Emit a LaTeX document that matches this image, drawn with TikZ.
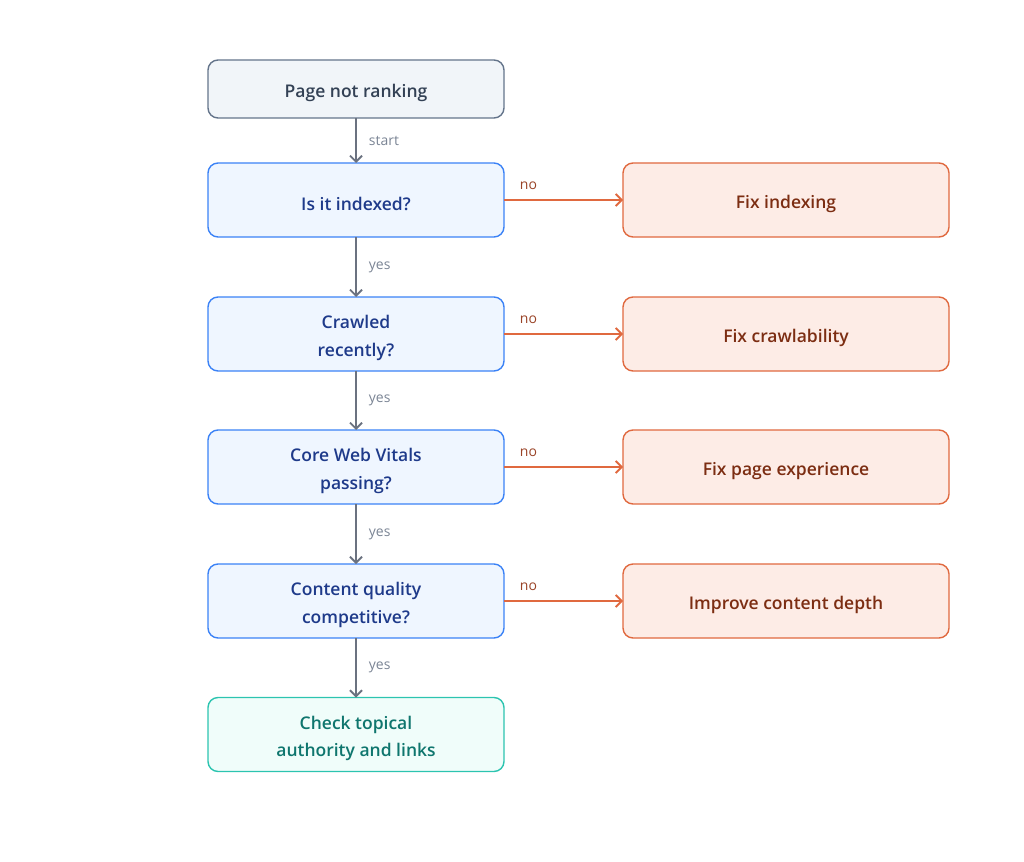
\documentclass[tikz,border=0pt]{standalone}
\usepackage{fontspec}
\IfFontExistsTF{Open Sans Semibold}
  {\setmainfont{Open Sans}[BoldFont={Open Sans Semibold}]}
  {\IfFontExistsTF{OpenSans-Semibold.ttf}
    {\setmainfont{Open Sans}[BoldFont={OpenSans-Semibold.ttf}]}
    {\setmainfont{Open Sans}}}
\usetikzlibrary{positioning,arrows.meta}
\definecolor{grisfond}{HTML}{F1F5F9}
\definecolor{grisbord}{HTML}{64748B}
\definecolor{gristexte}{HTML}{334155}
\definecolor{bleufond}{HTML}{EFF6FF}
\definecolor{bleubord}{HTML}{3B82F6}
\definecolor{bleutexte}{HTML}{1E3A8A}
\definecolor{orfond}{HTML}{FDECE6}
\definecolor{orbord}{HTML}{E0693F}
\definecolor{ortexte}{HTML}{7C2D12}
\definecolor{vertfond}{HTML}{F0FDFA}
\definecolor{vertbord}{HTML}{2CC4B0}
\definecolor{verttexte}{HTML}{0F766E}
\definecolor{fleche}{HTML}{6B7280}
\definecolor{etiq}{HTML}{7A8494}
\definecolor{etiqnon}{HTML}{9A4428}
\newcommand{\haut}{\rule{0pt}{21pt}}
\tikzset{
  boite/.style={rounded corners=10pt, line width=1.4pt, minimum width=296pt,
    minimum height=74pt, align=center, font=\fontsize{17.5}{27.5}\selectfont\bfseries,
    inner sep=0pt, outer sep=0pt},
  depart/.style={boite, fill=grisfond, draw=grisbord, text=gristexte, minimum height=58pt},
  question/.style={boite, fill=bleufond, draw=bleubord, text=bleutexte},
  remede/.style={boite, fill=orfond, draw=orbord, text=ortexte, minimum width=326pt},
  fin/.style={boite, fill=vertfond, draw=vertbord, text=verttexte},
  oui/.style={-{Straight Barb[length=6pt,width=12pt]}, line width=1.8pt, draw=fleche},
  non/.style={-{Straight Barb[length=6pt,width=12pt]}, line width=1.8pt, draw=orbord},
  lab/.style={font=\fontsize{14}{16}\selectfont, text=etiq, inner sep=0pt}
}
\begin{document}
\begin{tikzpicture}[x=1pt, y=1pt]
  \useasboundingbox (0,0) rectangle (1024,-861);
  % Colonne des questions
  \node [depart] (page) at (356,-89) {\haut Page not ranking};
  \node [question] (index) at (356,-200) {\haut Is it indexed?};
  \node [question] (crawl) at (356,-334) {\haut Crawled\\recently?};
  \node [question] (cwv) at (356,-467) {\haut Core Web Vitals\\passing?};
  \node [question] (contenu) at (356,-601) {\haut Content quality\\competitive?};
  \node [fin] (autorite) at (356,-734.5) {\haut Check topical\\authority and links};
  % Colonne des corrections
  \node [remede, right=119pt of index] (fixindex) {\haut Fix indexing};
  \node [remede, right=119pt of crawl] (fixcrawl) {\haut Fix crawlability};
  \node [remede, right=119pt of cwv] (fixpage) {\haut Fix page experience};
  \node [remede, right=119pt of contenu] (fixcontenu) {\haut Improve content depth};
  % Flèches verticales
  \draw [oui] (page) -- (index) node [lab, midway, right=12pt] {start};
  \draw [oui] (index) -- (crawl) node [lab, midway, right=12pt] {yes};
  \draw [oui] (crawl) -- (cwv) node [lab, midway, right=12pt] {yes};
  \draw [oui] (cwv) -- (contenu) node [lab, midway, right=12pt] {yes};
  \draw [oui] (contenu) -- (autorite) node [lab, midway, right=12pt] {yes};
  % Flèches horizontales
  \foreach \q/\r in {index/fixindex, crawl/fixcrawl, cwv/fixpage, contenu/fixcontenu}
  {
    \draw [non] (\q) -- (\r) node [lab, text=etiqnon, pos=0.0, above right=9pt and 15pt] {no};
  }
\end{tikzpicture}
\end{document}
